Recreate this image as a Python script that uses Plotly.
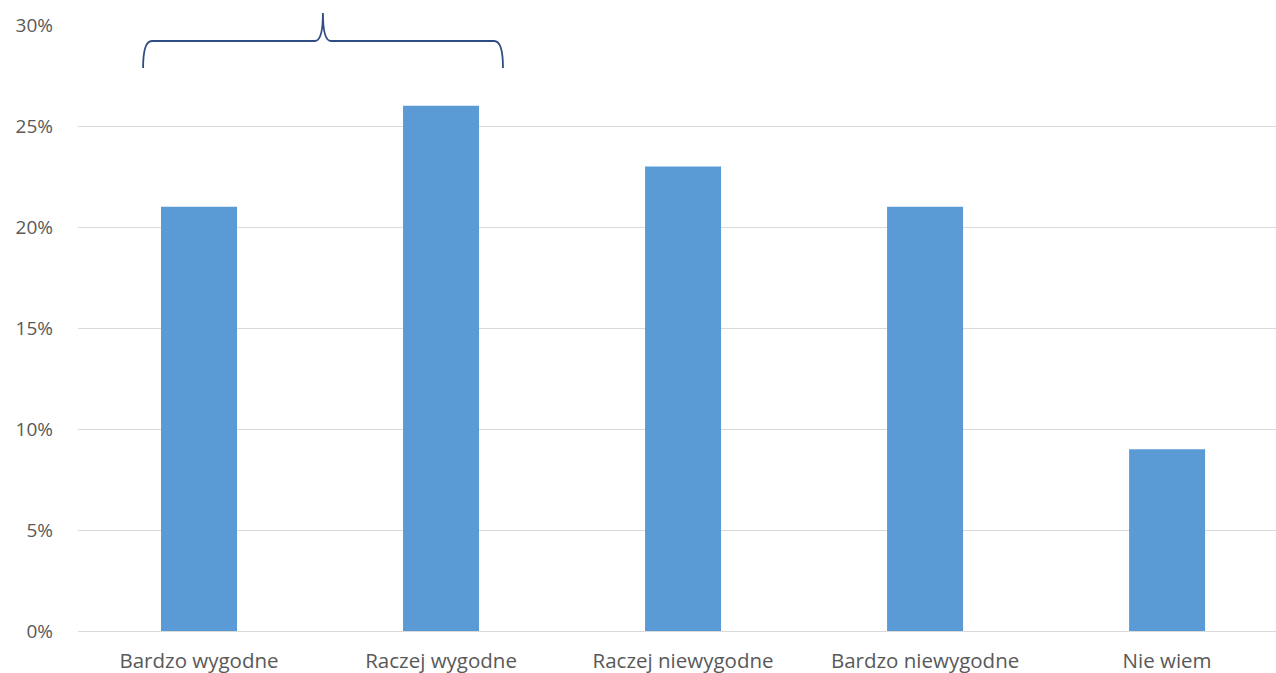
import plotly.graph_objects as go

categories = ["Bardzo wygodne", "Raczej wygodne", "Raczej niewygodne", "Bardzo niewygodne", "Nie wiem"]
values = [21, 26, 23, 21, 9]
y_ticks = [0, 5, 10, 15, 20, 25, 30]
y_tick_labels = [f"{v}%" for v in y_ticks]

fig = go.Figure()
fig.add_trace(go.Bar(
    x=list(range(len(categories))),
    y=values,
    width=0.314,
    marker=dict(color="#5B9BD5", line=dict(width=0)),
    hoverinfo="skip",
))

# brace over first two categories (xref x, yref paper)
brace = ("M -0.231,0.929 Q -0.231,0.9736 -0.195,0.9736 L 0.478,0.9736 "
         "Q 0.512,0.9736 0.512,1.02 Q 0.512,0.9736 0.546,0.9736 L 1.22,0.9736 "
         "Q 1.256,0.9736 1.256,0.929")
fig.add_shape(type="path", path=brace, xref="x", yref="paper",
              line=dict(color="#2F4D84", width=1.8))

fig.update_layout(
    width=1276, height=673,
    margin=dict(l=78, r=0, t=25, b=42),
    paper_bgcolor="white", plot_bgcolor="white",
    showlegend=False,
    font=dict(family="'Open Sans', sans-serif", size=19, color="#595959"),
    xaxis=dict(
        range=[-0.5, 4.45],
        tickmode="array",
        tickvals=list(range(len(categories))),
        ticktext=categories,
        tickfont=dict(size=20.5),
        showgrid=False, zeroline=False,
        showline=False, ticks="",
        ticklabelstandoff=15,
        fixedrange=True,
    ),
    yaxis=dict(
        range=[0, 30],
        tickmode="array",
        tickvals=y_ticks,
        ticktext=y_tick_labels,
        showgrid=True, gridcolor="#D9D9D9", gridwidth=1.3,
        zeroline=True, zerolinecolor="#D9D9D9", zerolinewidth=1.3,
        showline=False, ticks="",
        ticklabelstandoff=24,
        fixedrange=True,
    ),
)

fig.write_html("out.html", config={"displayModeBar": False})
